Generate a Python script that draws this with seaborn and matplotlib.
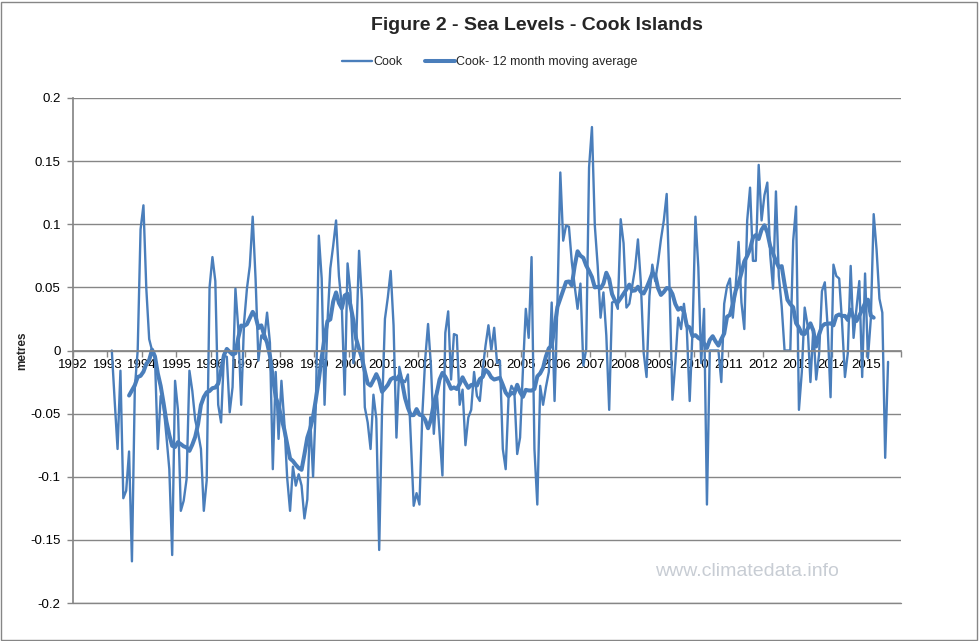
import numpy as np
import pandas as pd
import seaborn as sns
import matplotlib.pyplot as plt
from matplotlib.patches import Rectangle

### DATA - monthly sea level (metres), Feb 1993 - Aug 2015
cook_1993 = [0.000, -0.040, -0.078, -0.016, -0.117, -0.111, -0.080, -0.167, -0.030, 0.000, 0.096]
cook_1994 = [0.115, 0.049, 0.009, 0.000, -0.005, -0.078, -0.036, -0.044, -0.068, -0.094, -0.162, -0.024]
cook_1995 = [-0.047, -0.127, -0.119, -0.102, -0.016, -0.032, -0.055, -0.065, -0.078, -0.127, -0.103, 0.050]
cook_1996 = [0.074, 0.055, -0.043, -0.057, -0.004, -0.005, -0.049, -0.029, 0.049, 0.017, -0.043, 0.022]
cook_1997 = [0.049, 0.067, 0.106, 0.057, -0.008, 0.012, 0.009, 0.030, 0.006, -0.094, -0.017, -0.070]
cook_1998 = [-0.024, -0.057, -0.101, -0.127, -0.092, -0.107, -0.098, -0.107, -0.133, -0.118, -0.053, -0.100]
cook_1999 = [-0.041, 0.091, 0.057, -0.043, 0.022, 0.065, 0.083, 0.103, 0.059, 0.035, -0.035, 0.069]
cook_2000 = [0.046, -0.010, 0.006, 0.079, 0.040, -0.045, -0.057, -0.078, -0.035, -0.054, -0.158, -0.047]
cook_2001 = [0.025, 0.042, 0.063, 0.020, -0.069, -0.013, -0.023, -0.025, -0.019, -0.070, -0.123, -0.113]
cook_2002 = [-0.122, -0.051, -0.007, 0.021, -0.012, -0.066, -0.032, -0.065, -0.099, 0.014, 0.031, -0.023]
cook_2003 = [0.013, 0.012, -0.043, -0.031, -0.075, -0.053, -0.047, -0.017, -0.036, -0.040, -0.015, 0.004]
cook_2004 = [0.020, 0.000, 0.018, -0.010, -0.008, -0.078, -0.094, -0.037, -0.028, -0.032, -0.082, -0.069]
cook_2005 = [-0.015, 0.033, 0.010, 0.074, -0.078, -0.122, -0.028, -0.043, -0.029, -0.017, 0.038, -0.040]
cook_2006 = [0.038, 0.141, 0.087, 0.099, 0.098, 0.070, 0.051, 0.033, 0.053, -0.012, 0.001, 0.145]
cook_2007 = [0.177, 0.099, 0.067, 0.026, 0.046, 0.012, -0.047, 0.038, 0.039, 0.033, 0.104, 0.085]
cook_2008 = [0.034, 0.037, 0.051, 0.065, 0.088, 0.054, -0.002, -0.021, 0.043, 0.068, 0.055, 0.070]
cook_2009 = [0.088, 0.103, 0.124, 0.049, -0.039, -0.010, 0.026, 0.017, 0.037, 0.017, -0.040, 0.016]
cook_2010 = [0.106, 0.066, -0.010, 0.033, -0.122, 0.000, 0.000, 0.000, 0.000, -0.025, 0.037, 0.051]
cook_2011 = [0.057, 0.026, 0.051, 0.086, 0.038, 0.017, 0.103, 0.129, 0.071, 0.071, 0.147, 0.103]
cook_2012 = [0.123, 0.133, 0.076, 0.049, 0.126, 0.059, 0.035, 0.000, 0.000, 0.000, 0.087, 0.114]
cook_2013 = [-0.047, -0.017, 0.034, 0.020, -0.025, 0.017, -0.023, -0.003, 0.047, 0.054, 0.018, -0.037]
cook_2014 = [0.068, 0.059, 0.057, 0.022, -0.021, -0.002, 0.067, 0.010, 0.033, 0.055, -0.021, 0.061]
cook_2015 = [-0.006, 0.025, 0.108, 0.080, 0.041, 0.030, -0.085, -0.009]

first_month = 13  # Feb 1993, months counted from Jan 1992
year_labels = [str(y) for y in range(1992, 2016)] + ['']
ytick_labels = ['-0.2', '-0.15', '-0.1', '-0.05', '0', '0.05', '0.1', '0.15', '0.2']

BLUE = '#4A7EBB'
GREY = '#868686'

sns.set_theme(style='white')
plt.rcParams['font.family'] = ['Liberation Sans', 'DejaVu Sans']

monthly = (cook_1993 + cook_1994 + cook_1995 + cook_1996 + cook_1997 + cook_1998
           + cook_1999 + cook_2000 + cook_2001 + cook_2002 + cook_2003 + cook_2004
           + cook_2005 + cook_2006 + cook_2007 + cook_2008 + cook_2009 + cook_2010
           + cook_2011 + cook_2012 + cook_2013 + cook_2014 + cook_2015)
df = pd.DataFrame({'month': np.arange(first_month, first_month + len(monthly)),
                   'cook': monthly})
df['x'] = 1992 + (df['month'] + 0.5) / 12
df['avg'] = df['cook'].rolling(12, center=True).mean()

fig = plt.figure(figsize=(9.8, 6.41), dpi=100)
ax = fig.add_axes([73 / 980, 38 / 641, 828 / 980, 505 / 641])

sns.lineplot(data=df, x='x', y='cook', ax=ax, color=BLUE, linewidth=1.7,
             label='Cook', legend=False)
sns.lineplot(data=df, x='x', y='avg', ax=ax, color=BLUE, linewidth=2.9,
             label='Cook- 12 month moving average', legend=False)

ax.set_xlim(1992, 2016)
ax.set_ylim(-0.2, 0.2)
ax.set_xticks(range(1992, 2017))
ax.set_xticklabels(year_labels)
ax.set_yticks(np.linspace(-0.2, 0.2, 9))
ax.set_yticklabels(ytick_labels)
ax.grid(axis='y', color=GREY, linewidth=1)
ax.grid(axis='x', visible=False)
ax.axhline(-0.2, color=GREY, linewidth=1, clip_on=False, zorder=0.5)
ax.set_xlabel('')
ax.set_ylabel('')

for s in ['top', 'right']:
    ax.spines[s].set_visible(False)
ax.spines['left'].set_color(GREY)
ax.spines['bottom'].set_color(GREY)
ax.spines['bottom'].set_position(('data', 0))
ax.tick_params(axis='both', which='both', direction='out', length=4, width=1,
               color=GREY, labelsize=9.5, labelcolor='black')
ax.tick_params(axis='x', pad=2, bottom=True)
ax.tick_params(axis='y', pad=5, left=True)

fig.text(537 / 980, 1 - 26 / 641, 'Figure 2 - Sea Levels - Cook Islands',
         ha='center', va='center', fontsize=14, fontweight='bold')
fig.text(22 / 980, 1 - 351 / 641, 'metres', rotation=90, ha='center',
         va='center', fontsize=8.5, fontweight='bold')
fig.text(747 / 980, 1 - 572 / 641, 'www.climatedata.info', ha='center',
         va='center', fontsize=14, color='#C8CDD4')

handles, labels = ax.get_legend_handles_labels()
fig.legend(handles, labels, loc='center', bbox_to_anchor=(490 / 980, 1 - 62 / 641),
           ncol=2, frameon=False, fontsize=9, handlelength=2.4,
           handletextpad=0.1, columnspacing=1.8)

fig.patches.append(Rectangle((0.001, 0.002), 0.996, 0.995, transform=fig.transFigure,
                             fill=False, edgecolor=GREY, linewidth=1.0))

fig.savefig('out.png', dpi=100)
